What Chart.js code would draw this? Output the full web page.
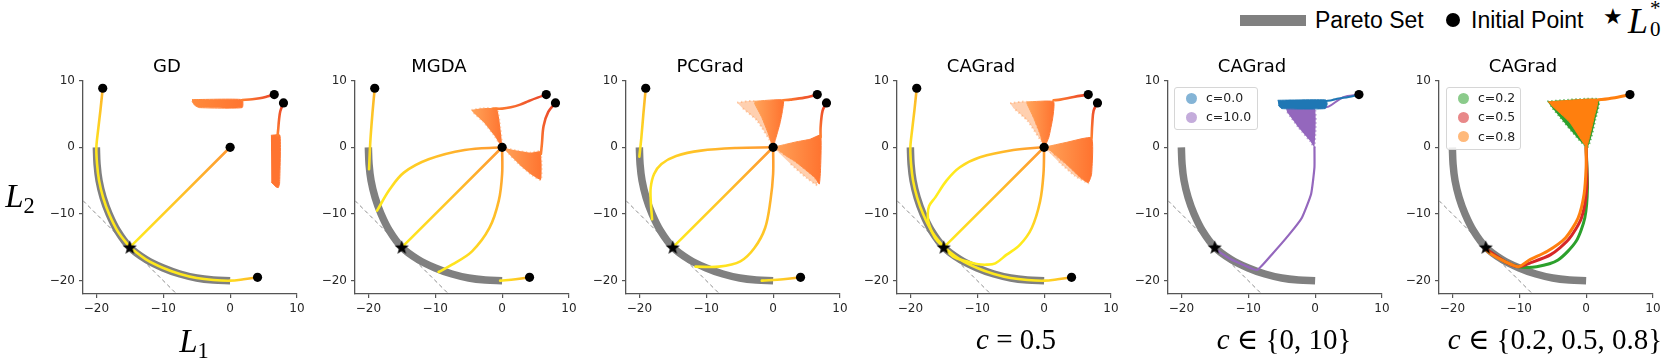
<!DOCTYPE html>
<html>
<head>
<meta charset="utf-8">
<script src="https://cdn.jsdelivr.net/npm/chart.js@4.4.1/dist/chart.umd.min.js"></script>
<style>
  body { margin: 0; width: 1662px; height: 358px; background: #fff; position: relative; overflow: hidden; font-family: "DejaVu Sans", sans-serif; }
  canvas { position: absolute; }
  .math { position: absolute; font-family: "Liberation Serif", "DejaVu Serif", serif; white-space: nowrap; color: #000; line-height: 1; text-align: center; }
  .math i { font-style: italic; }
  .math sub { font-size: 0.68em; vertical-align: -0.25em; }
  .key { position: absolute; font-family: "Liberation Sans", Arial, sans-serif; font-size: 23px; color: #000; line-height: 1; white-space: nowrap; }
  .box { position: absolute; border: 1px solid #d6d6d6; border-radius: 3px; background: rgba(255,255,255,0.85); }
  .item { position: absolute; font-family: "DejaVu Sans", sans-serif; font-size: 12.5px; color: #222; white-space: nowrap; }
  .dot { position: absolute; border-radius: 50%; }
</style>
</head>
<body>

<canvas id="p0" width="272" height="267"></canvas>
<canvas id="p1" width="272" height="267"></canvas>
<canvas id="p2" width="272" height="267"></canvas>
<canvas id="p3" width="272" height="267"></canvas>
<canvas id="p4" width="272" height="267"></canvas>
<canvas id="p5" width="272" height="267"></canvas>

<!-- axis captions -->
<div class="math" style="left:0px;width:40px;top:180px;font-size:33px"><i>L</i><sub>2</sub></div>
<div class="math" style="left:164px;width:60px;top:325px;font-size:33px"><i>L</i><sub>1</sub></div>
<div class="math" style="left:916px;width:200px;top:325px;font-size:29px"><i>c</i> = 0.5</div>
<div class="math" style="left:1184px;width:200px;top:325px;font-size:29px"><i>c</i> ∈ {0, 10}</div>
<div class="math" style="left:1435px;width:240px;top:325px;font-size:29px"><i>c</i> ∈ {0.2, 0.5, 0.8}</div>

<!-- figure key -->
<div style="position:absolute;left:1240px;top:15px;width:66px;height:11px;background:#808080"></div>
<div class="key" style="left:1315px;top:9px">Pareto Set</div>
<div class="dot" style="left:1446px;top:13px;width:14px;height:14px;background:#000"></div>
<div class="key" style="left:1471px;top:9px">Initial Point</div>
<div class="key" style="left:1603px;top:6px;font-size:22px">★</div>
<div class="math" style="left:1628px;top:3px;font-size:36px;text-align:left"><i>L</i></div>
<div class="math" style="left:1650px;top:-2px;font-size:21px;text-align:left">*</div>
<div class="math" style="left:1650px;top:19px;font-size:21px;text-align:left">0</div>

<!-- in-axes legends -->
<div class="box" style="left:1174px;top:87px;width:82px;height:41px"></div>
<div class="box" style="left:1446px;top:87px;width:73px;height:61px"></div>
<div id="legends"></div>

<script>
// ---------- data ----------
const X_TICKS = [-20, -10, 0, 10];
const Y_TICKS = [-20, -10, 0, 10];
const TITLES = ['GD', 'MGDA', 'PCGrad', 'CAGrad', 'CAGrad', 'CAGrad'];

const PARETO = [[-20, 0], [-19.9, -2.5], [-19.6, -5], [-19, -7.5], [-18.1, -10], [-16.8, -12.6], [-15, -15],
  [-12.6, -16.8], [-10, -18.1], [-7.5, -19], [-5, -19.6], [-2.5, -19.9], [0, -20]];
const TANGENT = [[-22, -8], [-8, -22]];
const OPTIMUM = [[-15, -15]];
const STARTS = [[-19.05, 8.85], [6.6, 7.9], [7.98, 6.65], [0, 0], [4.1, -19.5]];
const SINGLE_START = [[6.55, 7.9]];

// GD
const GD_LEFT = [[-19.05, 8.85], [-19.4, 5.5], [-19.75, 2.5], [-20, 0], [-19.9, -2.5], [-19.6, -5], [-19, -7.5], [-18.1, -10], [-16.8, -12.6], [-15, -15]];
const GD_BOTTOM = [[4.1, -19.5], [2, -19.8], [0, -20], [-2.5, -19.9], [-5, -19.6], [-7.5, -19], [-10, -18.1], [-12.6, -16.8], [-15, -15]];
const DIAG = [[0, 0], [-15, -15]];
const GD_TOP = [[6.6, 7.9], [5.5, 7.6], [4.4, 7.35], [3.3, 7.2], [1.8, 7.1]];
const GD_TOP_CLOUD = [[-5.7, 7.15], [1.8, 7.15], [1.8, 5.95], [-4.6, 5.95], [-5.3, 6.3], [-5.7, 6.9]];
const GD_RIGHT = [[7.98, 6.65], [7.5, 5.4], [7.3, 4], [7.2, 2.8], [7.1, 1.8]];
const GD_RIGHT_CLOUD = [[6.1, 1.8], [7.45, 1.8], [7.4, -5.4], [7.2, -6.05], [6.8, -5.9], [6.15, -5.2]];

// MGDA
const MG_LEFT = [[-19.05, 8.85], [-19.4, 5], [-19.7, 1], [-19.9, -3.3]];
const MG_ARC_UP = [[0, 0], [-5.6, -0.4], [-11, -1.8], [-14.7, -3.8], [-16.8, -6.3], [-18.7, -9.5]];
const MG_ARC_DOWN = [[0, 0], [0, -4], [-0.5, -8], [-1.9, -12.1], [-4.5, -15.6], [-7.5, -17.6], [-9.5, -18.7]];
const MG_BOTTOM = [[4.1, -19.5], [2, -19.8], [-0.3, -20]];
const MG_TOP = [[6.6, 7.9], [5.3, 7.45], [4, 6.95], [2.7, 6.4], [1.3, 6], [0, 5.8], [-1.3, 5.8]];
const MG_TOP_CLOUD = [[-4.6, 5.6], [-3, 5.85], [-0.8, 5.8], [-0.4, 4], [0, 0], [-1.2, 1.8], [-2.8, 3.8], [-4.4, 5.3]];
const MG_RIGHT = [[7.98, 6.65], [6.9, 5.3], [6.2, 3.2], [5.95, 0.5], [5.8, -1]];
const MG_RIGHT_CLOUD = [[0, 0], [2.2, -0.5], [4.2, -0.8], [5.7, -0.6], [5.9, -2.5], [5.8, -4.9], [4.5, -4.2], [2.6, -2.6], [1, -1]];

// PCGrad
const PC_LEFT = [[-19.05, 8.85], [-19.4, 5], [-19.7, 1.5], [-20, -1.4]];
const PC_ARC_UP = [[0, 0], [-5.5, -0.1], [-10.8, -0.5], [-14.5, -1.3], [-16.7, -2.5], [-17.8, -4], [-18.3, -6], [-18.3, -8], [-18.1, -10.8]];
const PC_ARC_DOWN = [[0, 0], [0, -4], [-0.4, -8], [-1.2, -12.1], [-2.8, -15.1], [-4.9, -17.1], [-8.1, -17.9], [-11.6, -17.9]];
const PC_BOTTOM = [[4.1, -19.5], [1.5, -19.8], [-1.7, -20]];
const PC_TOP = [[6.6, 7.9], [4.7, 7.45], [2.6, 7.15], [1.5, 7.05]];
const PC_TOP_CORE = [[-2.8, 6.9], [1.5, 7.1], [1.4, 5.5], [1.0, 3.5], [0.3, 1.0], [0, 0], [-0.7, 2], [-1.7, 4.5], [-2.8, 6.6]];
const PC_TOP_SPRAY = [[-5.4, 6.7], [-2.8, 6.9], [-1.0, 3.0], [0, 0.3], [-2.4, 4.0], [-4.6, 5.9]];
const PC_RIGHT = [[7.98, 6.65], [7.4, 5.5], [7.1, 3], [7.1, 1.5]];
const PC_RIGHT_CORE = [[0, 0], [3.4, 0.8], [5.5, 1.2], [7.1, 1.8], [7.1, -3], [6.9, -5.5], [6.2, -4.5], [3.4, -2.2], [1.5, -1]];
const PC_RIGHT_SPRAY = [[0, 0], [3.4, -2.2], [6.2, -4.5], [6.6, -5.7], [5, -4.6], [2.5, -2.4]];

// CAGrad c = 0.5
const CA_ARC_UP = [[0, 0], [-4.6, -0.4], [-9.6, -1.5], [-12.6, -3], [-14.6, -5], [-16.3, -7.55], [-17.2, -8.8], [-17.4, -10.1], [-17.2, -11.6], [-16.3, -13.6], [-15, -15]];
const CA_ARC_DOWN = [[0, 0], [-0.1, -4], [-0.6, -8.1], [-1.85, -12.1], [-3.6, -14.6], [-5.6, -16.1], [-7.3, -17.4], [-8.6, -17.6], [-10.1, -17.5], [-11.6, -17.1], [-13.6, -16.4], [-15, -15]];
const CA_TOP = [[6.6, 7.9], [4.4, 7.55], [2.4, 7.15], [1.4, 7.05]];
const CA_TOP_CORE = [[-2.6, 6.8], [1.4, 6.85], [1.3, 4.5], [0.7, 1.5], [0, 0], [-0.6, 2], [-1.6, 4.5], [-2.6, 6.6]];
const CA_TOP_SPRAY = [[-5.1, 6.6], [-2.6, 6.8], [-1.0, 3.0], [0, 0.3], [-2.5, 4.0], [-4.6, 5.9]];
const CA_RIGHT = [[7.98, 6.65], [7.4, 5.5], [7.2, 3.5], [7.1, 1.4]];
const CA_RIGHT_CORE = [[0, 0], [3.4, 0.75], [7.1, 1.4], [7.1, -4.0], [6.6, -5.3], [5.4, -4.5], [3.4, -2.6], [1.2, -0.8]];
const CA_RIGHT_SPRAY = [[0, 0], [3.4, -2.6], [5.4, -4.5], [6.6, -5.4], [4.6, -4.3], [2.2, -2.2]];

// CAGrad c in {0, 10}
const C0_TRAIL = [[6.55, 7.9], [5, 7.55], [3.5, 7.3], [2.6, 7.1], [1.5, 6.9]];
const C0_CLOUD = [[-5.6, 7.05], [1.6, 7.1], [1.8, 6.5], [1.5, 5.8], [-5.0, 5.8], [-5.5, 6.3]];
const C10_TRAIL = [[6.55, 7.9], [4.2, 7.5], [2, 6.1], [0.5, 5.9]];
const C10_CLOUD = [[-4.4, 6.0], [-0.1, 6.0], [-0.1, 0], [-0.8, 1], [-2.5, 3], [-4.2, 5.3]];
const C10_PATH = [[-0.1, 0], [-0.1, -3], [-0.6, -7], [-2, -10.6], [-3.9, -13.1], [-6.5, -16.1], [-8.7, -18.4], [-10.8, -17.6], [-12.6, -16.8], [-15.2, -15.1]];

// CAGrad c in {0.2, 0.5, 0.8}
const C08_TRAIL = [[6.55, 7.9], [4, 7.4], [2.25, 7.15], [1.7, 7.1]];
const C08_CLOUD = [[-5.7, 6.8], [-3, 7.0], [1.7, 7.15], [1.2, 4.5], [0.1, 0], [-0.3, 0.5], [-2.5, 3.8], [-5.2, 6.3]];
const C02_CLOUD = [[-5.8, 6.9], [1.9, 7.2], [1.4, 4.2], [0.15, 0], [-5.3, 6.2]];
const C08_PATH = [[0, 0], [0, -3], [-0.3, -7], [-1.2, -10.6], [-3.1, -13.6], [-5.8, -15.6], [-8.5, -16.9], [-10.1, -17.9], [-12.2, -17.1], [-14.4, -15.9], [-15.2, -15.1]];
const C05_PATH = [[0, 0], [0.1, -6], [-0.7, -10.6], [-2.6, -13.8], [-5.3, -16.1], [-8.5, -17.4], [-10.1, -17.9], [-12.2, -17.1], [-15.2, -15.1]];
const C02_PATH = [[0, 0], [0.2, -6], [-0.2, -10.6], [-1.5, -14.1], [-4.2, -16.9], [-7.4, -17.9], [-10.1, -17.9], [-12.2, -17.1], [-15.2, -15.1]];

// ---------- styles ----------
const PANEL_LEFT = [83, 355, 626, 897, 1168, 1439];
const RED_TO_ORANGE = ['#e8432a', '#ff8030'];
const ORANGE_TO_YELLOW = ['#ff9832', '#ffec1c'];
const GOLD_TO_YELLOW = ['#fcb22c', '#ffe81c'];
const CLOUD = ['#ffa45a', '#ff7430'];
const SPRAY = 'rgba(255,150,80,0.45)';
const TAB = { blue: '#1f77b4', purple: '#9467bd', green: '#2ca02c', red: '#d62728', orange: '#ff7f0e' };

const starImg = (() => {
  const c = document.createElement('canvas');
  c.width = 15; c.height = 15;
  const g = c.getContext('2d');
  g.beginPath();
  for (let i = 0; i < 10; i++) {
    const r = i % 2 ? 3 : 7.4;
    const a = -Math.PI / 2 + i * Math.PI / 5;
    g.lineTo(7.5 + r * Math.cos(a), 8 + r * Math.sin(a));
  }
  g.closePath(); g.fillStyle = '#000'; g.fill();
  return c;
})();

const pts = arr => arr.map(([x, y]) => ({ x, y }));

// gradient along the straight line from first to last point
function fade(colors, reach) {
  return ctx => {
    const chart = ctx.chart, ds = chart.data.datasets[ctx.datasetIndex];
    const sx = chart.scales.x, sy = chart.scales.y;
    if (!sx || !sy || !chart.chartArea) return colors[1];
    const a = ds.data[0], b = ds.data[ds.data.length - 1];
    const g = chart.ctx.createLinearGradient(sx.getPixelForValue(a.x), sy.getPixelForValue(a.y),
      sx.getPixelForValue(b.x), sy.getPixelForValue(b.y));
    g.addColorStop(0, colors[0]);
    g.addColorStop(reach || 1, colors[1]);
    if (reach && reach < 1) g.addColorStop(1, colors[1]);
    return g;
  };
}

function hfade(colors, x0, x1) {
  return ctx => {
    const chart = ctx.chart, sx = chart.scales.x;
    if (!sx || !chart.chartArea) return colors[1];
    const g = chart.ctx.createLinearGradient(sx.getPixelForValue(x0), 0, sx.getPixelForValue(x1), 0);
    g.addColorStop(0, colors[0]); g.addColorStop(1, colors[1]);
    return g;
  };
}

function trail(data, color, width, tension, order) {
  return { type: 'line', data: pts(data), borderColor: color, borderWidth: width || 2.6, pointRadius: 0,
    tension: tension === undefined ? 0.35 : tension, fill: false, borderCapStyle: 'round', borderJoinStyle: 'round', order: order || 2 };
}
// solid scatter cloud; dotted rim stands in for the loose points at its edge
function patch(data, color, order, rim) {
  return { type: 'line', data: pts(data), borderColor: rim || color, backgroundColor: color,
    borderWidth: rim ? 2 : 1, borderDash: rim ? [1.5, 2.5] : [], pointRadius: 0,
    tension: 0.15, fill: 'shape', order: order || 3 };
}
function base() {
  return [
    { type: 'line', data: pts(TANGENT), borderColor: '#8c8c8c', borderWidth: 1, borderDash: [4, 3], pointRadius: 0, fill: false, order: 6 },
    { type: 'line', data: pts(PARETO), borderColor: '#808080', borderWidth: 7.5, pointRadius: 0, tension: 0.35, fill: false, borderCapStyle: 'butt', order: 5 },
    { type: 'scatter', data: pts(OPTIMUM), pointStyle: starImg, order: 0 }
  ];
}
function starts(data) {
  return { type: 'scatter', data: pts(data), pointRadius: 4.6, pointHoverRadius: 4.6, pointBackgroundColor: '#000', pointBorderWidth: 0, order: 1 };
}

const PANELS = [
  base().concat([
    starts(STARTS),
    trail(GD_LEFT, fade(GOLD_TO_YELLOW, 0.4)),
    trail(GD_BOTTOM, fade(GOLD_TO_YELLOW, 0.25)),
    trail(DIAG, fade(ORANGE_TO_YELLOW)),
    trail(GD_TOP, fade(RED_TO_ORANGE)),
    trail(GD_RIGHT, fade(RED_TO_ORANGE)),
    patch(GD_TOP_CLOUD, hfade(['#ff8a3c', '#ff7530'], -5.7, 1.8)),
    patch(GD_RIGHT_CLOUD, '#ff7430')
  ]),
  base().concat([
    starts(STARTS),
    trail(MG_LEFT, fade(GOLD_TO_YELLOW)),
    trail(MG_ARC_UP, fade(ORANGE_TO_YELLOW)),
    trail(DIAG, fade(ORANGE_TO_YELLOW)),
    trail(MG_ARC_DOWN, fade(ORANGE_TO_YELLOW)),
    trail(MG_BOTTOM, fade(GOLD_TO_YELLOW)),
    trail(MG_TOP, fade(RED_TO_ORANGE)),
    trail(MG_RIGHT, fade(RED_TO_ORANGE)),
    patch(MG_TOP_CLOUD, hfade(CLOUD, -4.6, 0), 3, SPRAY),
    patch(MG_RIGHT_CLOUD, hfade(CLOUD, 0, 5.9), 3, SPRAY)
  ]),
  base().concat([
    starts(STARTS),
    trail(PC_LEFT, fade(GOLD_TO_YELLOW)),
    trail(PC_ARC_UP, fade(ORANGE_TO_YELLOW)),
    trail(DIAG, fade(ORANGE_TO_YELLOW)),
    trail(PC_ARC_DOWN, fade(ORANGE_TO_YELLOW)),
    trail(PC_BOTTOM, fade(GOLD_TO_YELLOW)),
    trail(PC_TOP, fade(RED_TO_ORANGE)),
    trail(PC_RIGHT, fade(RED_TO_ORANGE)),
    patch(PC_TOP_CORE, hfade(CLOUD, -2.8, 1.5)),
    patch(PC_TOP_SPRAY, SPRAY, 4, SPRAY),
    patch(PC_RIGHT_CORE, hfade(CLOUD, 0, 7.1)),
    patch(PC_RIGHT_SPRAY, SPRAY, 4, SPRAY)
  ]),
  base().concat([
    starts(STARTS),
    trail(GD_LEFT, fade(GOLD_TO_YELLOW, 0.4)),
    trail(GD_BOTTOM, fade(GOLD_TO_YELLOW, 0.25)),
    trail(CA_ARC_UP, fade(ORANGE_TO_YELLOW, 0.6)),
    trail(DIAG, fade(ORANGE_TO_YELLOW)),
    trail(CA_ARC_DOWN, fade(ORANGE_TO_YELLOW, 0.6)),
    trail(CA_TOP, fade(RED_TO_ORANGE)),
    trail(CA_RIGHT, fade(RED_TO_ORANGE)),
    patch(CA_TOP_CORE, hfade(CLOUD, -2.6, 1.4)),
    patch(CA_TOP_SPRAY, SPRAY, 4, SPRAY),
    patch(CA_RIGHT_CORE, hfade(CLOUD, 0, 7.1)),
    patch(CA_RIGHT_SPRAY, SPRAY, 4, SPRAY)
  ]),
  base().concat([
    starts(SINGLE_START),
    trail(C0_TRAIL, TAB.blue, 2),
    patch(C0_CLOUD, TAB.blue, 2),
    trail(C10_TRAIL, TAB.purple, 2),
    patch(C10_CLOUD, TAB.purple, 3, 'rgba(148,103,189,0.6)'),
    trail(C10_PATH, TAB.purple, 2.2, 0.15)
  ]),
  base().concat([
    starts(SINGLE_START),
    patch(C02_CLOUD, TAB.green, 4, 'rgba(44,160,44,0.7)'),
    trail(C02_PATH, TAB.green, 3, 0.25, 4),
    trail(C05_PATH, TAB.red, 3, 0.25, 3),
    trail(C08_TRAIL, TAB.orange, 3, 0.3, 2),
    patch(C08_CLOUD, TAB.orange, 2),
    trail(C08_PATH, TAB.orange, 3, 0.25, 2)
  ])
];

// in-axes legends
const LEGENDS = [
  { left: 1174, top: 87, items: [['c=0.0', TAB.blue], ['c=10.0', TAB.purple]] },
  { left: 1446, top: 87, items: [['c=0.2', TAB.green], ['c=0.5', TAB.red], ['c=0.8', TAB.orange]] }
];
let html = '';
LEGENDS.forEach(lg => lg.items.forEach(([label, color], i) => {
  const y = lg.top + 11 + i * 19.3;
  html += `<div class="dot" style="left:${lg.left + 12}px;top:${y - 5.5}px;width:11px;height:11px;background:${color};opacity:0.55"></div>`;
  html += `<div class="item" style="left:${lg.left + 32}px;top:${y - 8}px">${label}</div>`;
}));
document.getElementById('legends').innerHTML = html;

const fmt = v => (v < 0 ? '\u2212' + Math.abs(v) : String(v));

function axis(ticks, isX) {
  return {
    type: 'linear', min: -22, max: 10,
    afterBuildTicks: s => { s.ticks = ticks.map(v => ({ value: v })); },
    afterFit: s => { if (isX) s.height = 30; else s.width = 46; },
    grid: { drawOnChartArea: false, drawTicks: true, tickLength: 4, color: '#555', lineWidth: 1.2 },
    border: { display: true, color: '#555', width: 1.3 },
    ticks: { callback: fmt, color: '#262626', font: { family: 'DejaVu Sans', size: 12 }, padding: 4, autoSkip: false, maxRotation: 0 }
  };
}

PANELS.forEach((datasets, i) => {
  const cv = document.getElementById('p' + i);
  cv.style.left = (PANEL_LEFT[i] - 46) + 'px';
  cv.style.top = '57px';
  new Chart(cv, {
    type: 'scatter',
    data: { datasets },
    options: {
      responsive: false, animation: false, events: [],
      layout: { autoPadding: false, padding: { left: 0, right: 12, top: 0, bottom: 0 } },
      plugins: {
        legend: { display: false }, tooltip: { enabled: false },
        title: { display: true, text: TITLES[i], color: '#000', font: { family: 'DejaVu Sans', size: 18, weight: 'normal' }, padding: { top: 0, bottom: 2 } }
      },
      scales: { x: axis(X_TICKS, true), y: axis(Y_TICKS, false) }
    }
  });
});
</script>
</body>
</html>
